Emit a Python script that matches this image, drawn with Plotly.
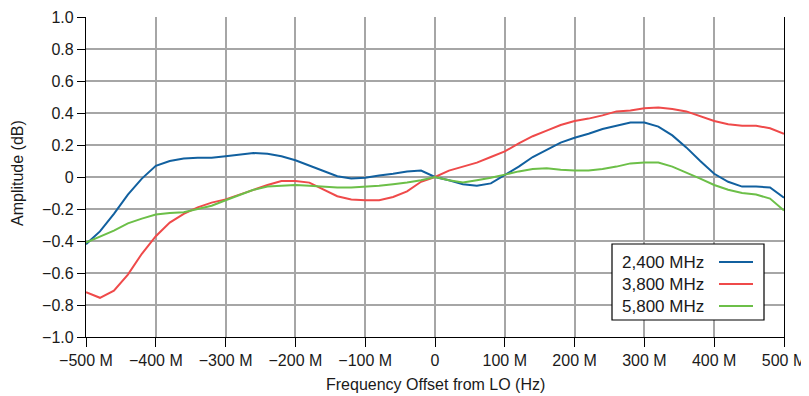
import plotly.graph_objects as go

freq_mhz = list(range(-500, 501, 20))

series_names = ["2,400 MHz", "3,800 MHz", "5,800 MHz"]
series_colors = ["#11609f", "#ef4a4a", "#6cbf48"]

amp_2400 = [-0.42, -0.34, -0.23, -0.11, -0.01, 0.07, 0.10, 0.115, 0.12, 0.12,
            0.13, 0.14, 0.15, 0.145, 0.13, 0.105, 0.07, 0.035, 0.005, -0.01,
            -0.005, 0.01, 0.02, 0.035, 0.04, 0.0,
            -0.02, -0.045, -0.055, -0.04, 0.01, 0.065, 0.125, 0.17, 0.215,
            0.245, 0.27, 0.30, 0.32, 0.34, 0.34, 0.315, 0.26, 0.185, 0.10,
            0.02, -0.03, -0.06, -0.06, -0.065, -0.13]

amp_3800 = [-0.72, -0.755, -0.71, -0.61, -0.48, -0.37, -0.285, -0.23, -0.19, -0.16,
            -0.14, -0.11, -0.08, -0.05, -0.025, -0.025, -0.035, -0.075, -0.12, -0.14,
            -0.145, -0.145, -0.125, -0.09, -0.03, 0.0,
            0.04, 0.065, 0.09, 0.125, 0.16, 0.21, 0.255, 0.29, 0.325,
            0.35, 0.365, 0.385, 0.41, 0.415, 0.43, 0.435, 0.425, 0.41, 0.38,
            0.35, 0.33, 0.32, 0.32, 0.305, 0.27]

amp_5800 = [-0.41, -0.375, -0.335, -0.29, -0.26, -0.235, -0.225, -0.22, -0.20, -0.18,
            -0.145, -0.11, -0.08, -0.06, -0.055, -0.05, -0.055, -0.06, -0.065, -0.065,
            -0.06, -0.055, -0.045, -0.035, -0.02, 0.0,
            -0.02, -0.035, -0.02, -0.005, 0.015, 0.035, 0.05, 0.055, 0.045,
            0.04, 0.04, 0.05, 0.065, 0.085, 0.09, 0.09, 0.065, 0.03, -0.01,
            -0.05, -0.08, -0.10, -0.11, -0.135, -0.21]

x_tick_vals = [-500, -400, -300, -200, -100, 0, 100, 200, 300, 400, 500]
x_tick_text = ["\u2212500 M", "\u2212400 M", "\u2212300 M", "\u2212200 M", "\u2212100 M",
               "0", "100 M", "200 M", "300 M", "400 M", "500 M"]
y_tick_vals = [1.0, 0.8, 0.6, 0.4, 0.2, 0.0, -0.2, -0.4, -0.6, -0.8, -1.0]
y_tick_text = ["1.0", "0.8", "0.6", "0.4", "0.2", "0", "\u22120.2", "\u22120.4",
               "\u22120.6", "\u22120.8", "\u22121.0"]

x_title = "Frequency Offset from LO (Hz)"
y_title = "Amplitude (dB)"

FONT = "Liberation Sans, Arial, sans-serif"
TXT = "#1a1a1a"

# page has an 8px body margin; work in page pixels and subtract it
OFF = 8
FIG_W, FIG_H = 809 - OFF, 396 - OFF
L, R, T, B = 86, 784, 17, 337          # plot area in page pixels
W, H = R - L, B - T

fig = go.Figure()
for name, color, vals in zip(series_names, series_colors, [amp_2400, amp_3800, amp_5800]):
    fig.add_trace(go.Scatter(x=freq_mhz, y=vals, mode="lines", name=name,
                             line=dict(color=color, width=2), showlegend=False))

fig.update_layout(
    width=FIG_W, height=FIG_H,
    margin=dict(l=L - OFF, r=809 - R, t=T - OFF, b=396 - B, autoexpand=False),
    paper_bgcolor="white", plot_bgcolor="white",
    font=dict(family=FONT, size=16, color=TXT),
    xaxis=dict(range=[-500, 500], tickvals=x_tick_vals, ticktext=x_tick_text,
               showgrid=True, gridcolor="#a6a6a6", gridwidth=1.5,
               showline=True, linecolor="black", linewidth=1.2,
               ticks="outside", ticklen=9, tickcolor="black",
               zeroline=False, automargin=False,
               tickfont=dict(size=16)),
    yaxis=dict(range=[-1.0, 1.0], tickvals=y_tick_vals, ticktext=y_tick_text,
               showgrid=True, gridcolor="#a6a6a6", gridwidth=1.5,
               showline=True, linecolor="black", linewidth=1.2, mirror=True,
               ticks="outside", ticklen=8, tickcolor="black",
               zeroline=False, automargin=False,
               tickfont=dict(size=16)),
)

# axis titles
fig.add_annotation(xref="paper", yref="paper", x=(435 - L) / W, y=(B - 384) / H,
                   text=x_title, showarrow=False, xanchor="center", yanchor="middle",
                   font=dict(family=FONT, size=16, color=TXT))
fig.add_annotation(xref="paper", yref="paper", x=(17 - L) / W, y=(B - 173) / H,
                   text=y_title, showarrow=False, xanchor="center", yanchor="middle",
                   textangle=-90, font=dict(family=FONT, size=16, color=TXT))

# Custom legend box (text left, line sample right)
lx0, lx1 = (612 - L) / W, (764 - L) / W
ly0, ly1 = (B - 320) / H, (B - 244) / H
fig.add_shape(type="rect", xref="paper", yref="paper", x0=lx0, x1=lx1, y0=ly0, y1=ly1,
              line=dict(color="black", width=1.2), fillcolor="white", layer="above")
row_py = [262, 284, 306]
for name, color, py in zip(series_names, series_colors, row_py):
    yp = (B - py) / H
    fig.add_annotation(xref="paper", yref="paper", x=(620 - L) / W, y=yp,
                       text=name, showarrow=False, xanchor="left", yanchor="middle",
                       font=dict(family=FONT, size=17, color=TXT))
    fig.add_shape(type="line", xref="paper", yref="paper",
                  x0=(719 - L) / W, x1=(753 - L) / W, y0=yp, y1=yp,
                  line=dict(color=color, width=2), layer="above")

fig.write_html("out.html")
